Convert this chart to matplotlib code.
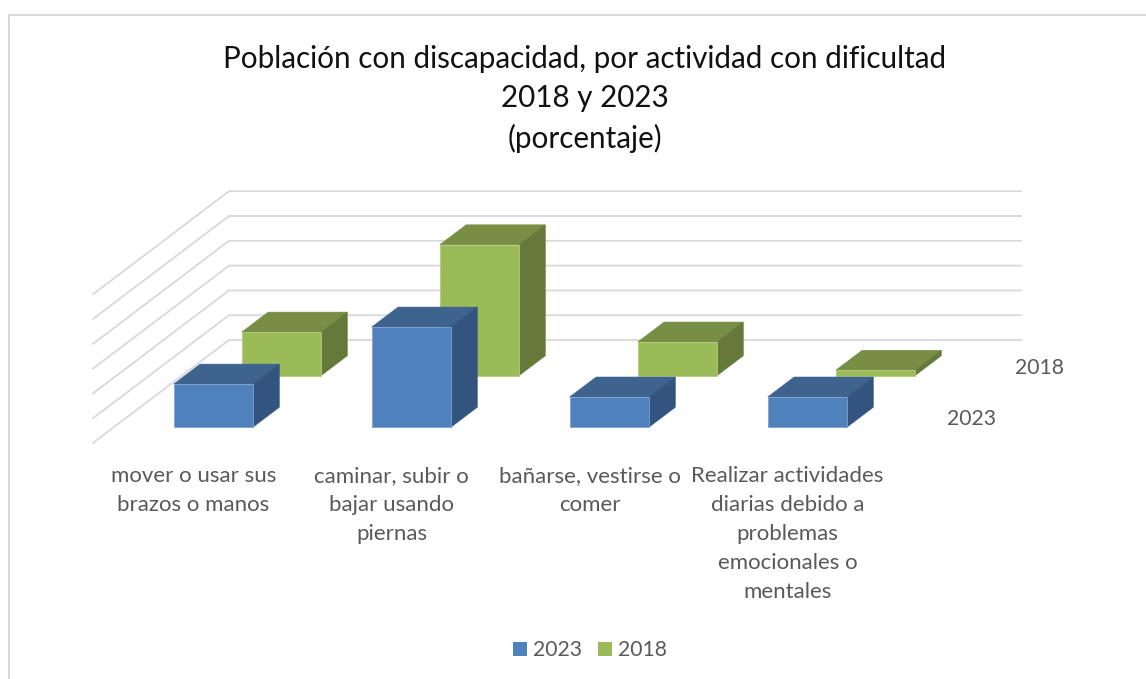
import matplotlib
matplotlib.use("Agg")
import matplotlib.pyplot as plt
from matplotlib.patches import Polygon, Patch

plt.rcParams['font.family'] = ['Lato', 'DejaVu Sans']

categories = [
    "mover o usar sus\nbrazos o manos",
    "caminar, subir o\nbajar usando\npiernas",
    "bañarse, vestirse o\ncomer",
    "Realizar actividades\ndiarias debido a\nproblemas\nemocionales o\nmentales",
]
series_names = ["2023", "2018"]
values_2023 = [8.7, 20.2, 6.1, 6.1]
values_2018 = [8.8, 26.4, 6.8, 1.1]
grid_values = [0, 5, 10, 15, 20, 25, 30]
title_text = "Población con discapacidad, por actividad con dificultad\n2018 y 2023\n(porcentaje)"

BLUE = dict(front="#4F81BD", top="#3E638F", side="#32547E", edge="#7FA3CF")
GREEN = dict(front="#9BBB59", top="#778E44", side="#657A3A", edge="#B4CC80")
GRID = "#D9D9D9"
TEXT = "#595959"


def proj(cat, depth, value):
    """Oblique projection of (category position, depth 0-1, value) to canvas pixels."""
    return (93 + 198 * cat + 136 * depth, 443 - 103 * depth - 4.96 * value)


fig = plt.figure(figsize=(11.46, 6.79), dpi=100)
ax = fig.add_axes([0, 0, 1, 1])
ax.set_xlim(0, 1146)
ax.set_ylim(679, 0)
ax.axis("off")

# outer chart border
ax.plot([9, 9, 1146], [679, 15, 15], color=GRID, lw=1.5, solid_joinstyle="miter", zorder=1)

# walls
for g in grid_values:
    pts = [proj(0, 0, g), proj(0, 1, g), proj(4, 1, g)]
    ax.plot([p[0] for p in pts], [p[1] for p in pts], color=GRID, lw=1.3,
            solid_joinstyle="miter", zorder=2)


def bar3d(cat, depth_c, value, colors, z):
    w = 0.2
    d = 0.097
    c0, c1 = cat + 0.5025 - w, cat + 0.5025 + w
    d0, d1 = depth_c - d, depth_c + d
    front = [proj(c0, d0, 0), proj(c1, d0, 0), proj(c1, d0, value), proj(c0, d0, value)]
    top = [proj(c0, d0, value), proj(c1, d0, value), proj(c1, d1, value), proj(c0, d1, value)]
    side = [proj(c1, d0, 0), proj(c1, d1, 0), proj(c1, d1, value), proj(c1, d0, value)]
    ax.add_patch(Polygon(top, closed=True, fc=colors["top"], ec=colors["top"], lw=0.4, zorder=z))
    ax.add_patch(Polygon(side, closed=True, fc=colors["side"], ec=colors["side"], lw=0.4, zorder=z))
    ax.add_patch(Polygon(front, closed=True, fc=colors["front"], ec=colors["edge"], lw=0.6, zorder=z + 0.1))


for i, v in enumerate(values_2018):
    bar3d(i, 0.75, v, GREEN, 3 + i * 0.2)
for i, v in enumerate(values_2023):
    bar3d(i, 0.25, v, BLUE, 5 + i * 0.2)

# category labels
for i, lab in enumerate(categories):
    x, _ = proj(i + 0.5, 0, 0)
    ax.text(x + 1.5, 466.5, lab, ha="center", va="top", fontsize=16, color=TEXT, linespacing=1.56)

# series labels on the depth axis
for name, dc in zip(series_names, [0.25, 0.75]):
    x, y = proj(4, dc, 0)
    ax.text(x + 52, y + 2, name, ha="center", va="center", fontsize=15.2, color=TEXT)

# title
ax.text(585, 45, title_text, ha="center", va="top", fontsize=21.35, color="#111111",
        linespacing=1.48)

# legend
handles = [Patch(fc=BLUE["front"], ec="none"), Patch(fc=GREEN["front"], ec="none")]
ax.legend(handles, series_names, loc="center", bbox_to_anchor=(590 / 1146, 1 - 650.5 / 679),
          ncol=2, frameon=False, fontsize=15.2, labelcolor=TEXT, handlelength=0.66,
          handleheight=0.66, handletextpad=0.28, columnspacing=0.8,
          borderpad=0, borderaxespad=0)

fig.savefig("out.png", dpi=100)
